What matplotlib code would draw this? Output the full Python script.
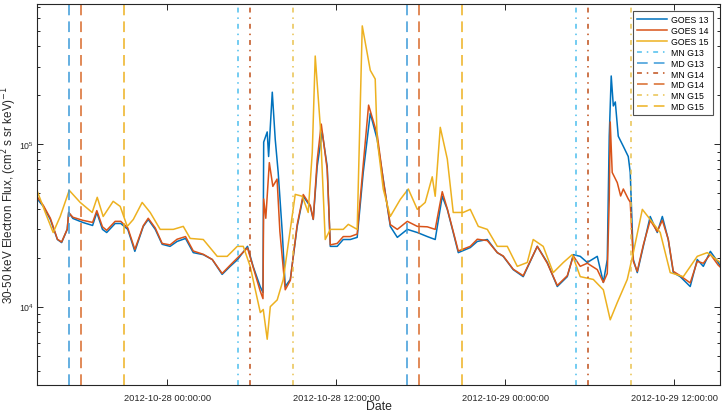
import matplotlib
matplotlib.use("Agg")
import matplotlib.pyplot as plt
import matplotlib.dates as mdates
from matplotlib.ticker import LogLocator, NullFormatter
import pandas as pd

plt.rcParams['font.family'] = ['Liberation Sans', 'DejaVu Sans']

base_time = "2012-10-28 00:00"

# ---- data: hours relative to base_time, flux in (cm^2 s sr keV)^-1 ----
g13_hours = [-9.2, -8.8, -8.3, -7.8, -7.5, -7.1, -7.0, -6.7, -6.0, -5.3, -5.0, -4.6, -4.3, -3.7, -3.3,
             -2.8, -2.3, -1.7, -1.35, -0.85, -0.36, 0.2, 0.7, 1.3, 1.85, 2.56, 3.2, 3.9, 4.47, 5.0,
             5.7, 6.1, 6.6, 6.8, 6.85, 7.1, 7.2, 7.46, 7.67, 7.88, 8.17, 8.38, 8.74, 9.23, 9.66,
             10.16, 10.37, 10.65, 11.0, 11.36, 11.58, 12.07, 12.5, 13.0, 13.49, 13.92, 14.42, 14.91,
             15.34, 15.84, 16.34, 17.05, 17.76, 18.47, 19.03, 19.53, 19.89, 20.31, 20.67, 21.52,
             22.02, 22.73, 23.44, 23.86, 24.57, 25.28, 26.28, 26.99, 27.70, 28.41, 28.84, 29.33,
             29.83, 30.54, 30.97, 31.25, 31.39, 31.53, 31.68, 31.82, 32.03, 32.39, 32.74, 32.88,
             33.10, 33.38, 33.81, 34.30, 34.80, 35.16, 35.58, 35.94, 36.43, 37.14, 37.64, 38.07,
             38.57, 39.13, 39.28]
g13_flux = [4.57e4, 4.14e4, 3.44e4, 2.59e4, 2.48e4, 2.99e4, 3.80e4, 3.49e4, 3.30e4, 3.16e4, 3.80e4,
            2.99e4, 2.86e4, 3.25e4, 3.25e4, 2.99e4, 2.19e4, 3.12e4, 3.44e4, 2.99e4, 2.42e4, 2.35e4,
            2.52e4, 2.63e4, 2.15e4, 2.09e4, 1.95e4, 1.58e4, 1.77e4, 1.95e4, 2.35e4, 1.77e4, 1.33e4,
            1.22e4, 1.03e5, 1.19e5, 8.4e4, 2.09e5, 1.07e5, 6.7e4, 2.86e4, 1.33e4, 1.47e4, 3.12e4,
            4.78e4, 4.14e4, 3.44e4, 7.3e4, 1.19e5, 7.3e4, 2.35e4, 2.35e4, 2.59e4, 2.59e4, 2.67e4,
            6.7e4, 1.55e5, 1.07e5, 6.1e4, 3.12e4, 2.67e4, 2.99e4, 2.86e4, 2.70e4, 2.59e4, 4.78e4,
            3.97e4, 2.86e4, 2.15e4, 2.31e4, 2.52e4, 2.59e4, 2.15e4, 2.04e4, 1.69e4, 1.53e4, 2.35e4,
            1.87e4, 1.33e4, 1.53e4, 2.09e4, 2.04e4, 1.87e4, 2.04e4, 1.41e4, 1.95e4, 1.12e5, 2.63e5,
            1.72e5, 1.82e5, 1.12e5, 9.7e4, 8.4e4, 6.7e4, 1.95e4, 1.62e4, 2.35e4, 3.59e4, 2.86e4,
            3.59e4, 2.59e4, 1.62e4, 1.53e4, 1.33e4, 1.95e4, 1.77e4, 2.19e4, 1.87e4, 1.77e4]

g14_hours = [-9.2, -8.8, -8.3, -7.8, -7.5, -7.1, -7.0, -6.7, -6.0, -5.3, -5.0, -4.6, -4.3, -3.7, -3.3,
             -2.8, -2.3, -1.7, -1.35, -0.85, -0.36, 0.2, 0.7, 1.3, 1.85, 2.56, 3.2, 3.9, 4.47, 5.0,
             5.7, 6.1, 6.6, 6.8, 6.85, 7.0, 7.25, 7.5, 7.8, 8.0, 8.38, 8.74, 9.23, 9.66, 10.16,
             10.37, 10.65, 10.94, 11.36, 11.58, 12.07, 12.5, 13.0, 13.49, 13.92, 14.3, 14.91, 15.34,
             15.84, 16.34, 17.05, 17.76, 18.47, 19.03, 19.53, 19.89, 20.31, 20.67, 21.52, 22.02,
             22.73, 23.44, 23.86, 24.57, 25.28, 26.28, 26.99, 27.70, 28.41, 28.84, 29.33, 29.83,
             30.54, 30.97, 31.25, 31.39, 31.46, 31.6, 31.96, 32.2, 32.39, 32.74, 32.88, 33.10,
             33.38, 33.81, 34.30, 34.80, 35.16, 35.58, 35.94, 36.43, 37.14, 37.64, 38.07, 38.57,
             39.13, 39.28]
g14_flux = [4.7e4, 4.2e4, 3.5e4, 2.6e4, 2.5e4, 3.0e4, 3.8e4, 3.55e4, 3.4e4, 3.3e4, 3.9e4, 3.1e4,
            2.95e4, 3.35e4, 3.35e4, 3.05e4, 2.25e4, 3.15e4, 3.5e4, 3.05e4, 2.45e4, 2.4e4, 2.6e4,
            2.7e4, 2.2e4, 2.1e4, 1.95e4, 1.6e4, 1.8e4, 2.0e4, 2.3e4, 1.75e4, 1.25e4, 1.12e4, 4.6e4,
            3.5e4, 7.7e4, 5.5e4, 6.1e4, 2.9e4, 1.27e4, 1.45e4, 3.2e4, 4.9e4, 4.2e4, 3.45e4, 8.0e4,
            1.33e5, 7.0e4, 2.4e4, 2.45e4, 2.7e4, 2.7e4, 2.8e4, 7.5e4, 1.74e5, 1.15e5, 6.0e4, 3.2e4,
            2.99e4, 3.35e4, 3.12e4, 3.1e4, 2.99e4, 5.1e4, 4.0e4, 2.9e4, 2.2e4, 2.35e4, 2.6e4,
            2.55e4, 2.15e4, 2.05e4, 1.7e4, 1.55e4, 2.35e4, 1.85e4, 1.35e4, 1.55e4, 2.05e4, 1.77e4,
            1.85e4, 1.69e4, 1.41e4, 1.6e4, 4.6e4, 1.37e5, 6.7e4, 5.8e4, 4.8e4, 5.3e4, 4.6e4, 4.4e4,
            1.9e4, 1.65e4, 2.4e4, 3.4e4, 2.9e4, 3.4e4, 2.6e4, 1.65e4, 1.55e4, 1.4e4, 1.9e4, 1.85e4,
            2.1e4, 1.8e4, 1.75e4]

g15_hours = [-9.2, -8.66, -8.1, -7.6, -6.96, -6.18, -5.33, -4.97, -4.55, -3.84, -3.34, -2.84, -2.41,
             -1.78, -1.21, -0.50, 0.43, 1.14, 1.63, 2.56, 3.55, 4.26, 4.97, 5.40, 5.89, 6.61, 6.82,
             7.10, 7.32, 7.81, 8.24, 8.74, 9.09, 9.59, 10.01, 10.30, 10.51, 10.87, 11.22, 11.58,
             12.50, 12.86, 13.49, 13.85, 14.42, 14.77, 14.91, 15.34, 15.84, 16.55, 17.12, 17.76,
             18.32, 18.82, 19.03, 19.39, 19.89, 20.31, 21.02, 21.52, 22.09, 22.73, 23.44, 24.15,
             24.86, 25.57, 25.99, 26.70, 27.41, 28.13, 28.76, 29.33, 30.26, 30.97, 31.46, 31.96,
             32.67, 33.10, 33.74, 34.30, 35.01, 35.72, 36.65, 37.64, 38.35, 39.28]
g15_flux = [5.06e4, 3.80e4, 2.86e4, 3.59e4, 5.2e4, 4.38e4, 3.80e4, 4.71e4, 3.59e4, 4.45e4, 4.14e4,
            3.12e4, 3.44e4, 4.38e4, 3.80e4, 2.99e4, 2.99e4, 3.12e4, 2.63e4, 2.59e4, 2.04e4, 2.04e4,
            2.35e4, 2.35e4, 1.77e4, 9.2e3, 9.6e3, 6.3e3, 1.0e4, 1.10e4, 1.47e4, 2.99e4, 4.91e4,
            4.78e4, 3.80e4, 8.9e4, 3.49e5, 1.29e5, 2.59e4, 2.99e4, 2.99e4, 3.21e4, 2.99e4, 5.35e5,
            2.85e5, 2.52e5, 1.07e5, 5.3e4, 3.59e4, 4.57e4, 5.3e4, 3.97e4, 4.38e4, 6.3e4, 4.78e4,
            1.27e5, 8.1e4, 3.80e4, 3.80e4, 3.97e4, 3.12e4, 2.99e4, 2.35e4, 2.35e4, 1.77e4, 1.87e4,
            2.59e4, 2.35e4, 1.62e4, 1.87e4, 2.09e4, 1.53e4, 1.47e4, 1.27e4, 8.3e3, 1.06e4, 1.47e4,
            2.15e4, 3.97e4, 3.44e4, 2.86e4, 1.62e4, 1.53e4, 2.04e4, 2.15e4, 1.87e4]

# local midnight (MN) / midday (MD) marker times
mn_g13 = ["2012-10-28 05:00", "2012-10-29 05:00"]
md_g13 = ["2012-10-27 17:00", "2012-10-28 17:00"]
mn_g14 = ["2012-10-28 05:52", "2012-10-29 05:52"]
md_g14 = ["2012-10-27 17:52", "2012-10-28 17:52"]
mn_g15 = ["2012-10-28 08:56", "2012-10-29 08:56"]
md_g15 = ["2012-10-27 20:56", "2012-10-28 20:56"]

x_range = ["2012-10-27 14:45", "2012-10-29 15:15"]
y_range = [3.3e3, 7.3e5]
tick_times = ["2012-10-28 00:00", "2012-10-28 12:00", "2012-10-29 00:00", "2012-10-29 12:00"]

c13, c14, c15 = '#0072BD', '#D95319', '#EDB120'


def to_time(hours):
    return pd.Timestamp(base_time) + pd.to_timedelta(hours, unit='h')


fig = plt.figure(figsize=(7.25, 4.14), dpi=100)
ax = fig.add_axes([0.051, 0.068, 0.942, 0.920])

lw = 1.1
ax.plot(to_time(g13_hours), g13_flux, color=c13, lw=lw, label='GOES 13')
ax.plot(to_time(g14_hours), g14_flux, color=c14, lw=lw, label='GOES 14')
ax.plot(to_time(g15_hours), g15_flux, color=c15, lw=lw, label='GOES 15')

dd = (0, (3.2, 3.2, 1, 3.2))
dsh = (0, (7, 4))
vl = 1.1
specs = [(mn_g13, '#4DBEEE', dd, 'MN G13'), (md_g13, '#3A9AD9', dsh, 'MD G13'),
         (mn_g14, '#C0501A', dd, 'MN G14'), (md_g14, '#D96A2A', dsh, 'MD G14'),
         (mn_g15, '#E9C250', dd, 'MN G15'), (md_g15, '#EDB120', dsh, 'MD G15')]
for times, col, ls, lab in specs:
    for i, t in enumerate(times):
        ax.axvline(pd.Timestamp(t), color=col, ls=ls, lw=vl, label=lab if i == 0 else None)

ax.set_yscale('log')
ax.set_ylim(*y_range)
ax.set_xlim(pd.Timestamp(x_range[0]), pd.Timestamp(x_range[1]))
ax.set_xticks([pd.Timestamp(t) for t in tick_times])
ax.xaxis.set_major_formatter(mdates.DateFormatter('%Y-%m-%d %H:%M:%S'))
ax.yaxis.set_major_locator(LogLocator(base=10, numticks=10))
ax.yaxis.set_minor_locator(LogLocator(base=10, subs=range(2, 10), numticks=10))
ax.yaxis.set_minor_formatter(NullFormatter())

ax.tick_params(which='both', direction='in', top=True, right=True, colors='#262626',
               labelsize=6.7, width=0.7)
ax.tick_params(which='major', length=4.5)
ax.tick_params(which='minor', length=2.5)
ax.tick_params(axis='x', pad=6)
ax.tick_params(axis='y', pad=2, labelsize=6.3)
for s in ax.spines.values():
    s.set_color('#262626')
    s.set_linewidth(0.8)

ax.set_ylabel('30-50 keV Electron Flux, (cm$^2$ s sr keV)$^{-1}$', fontsize=8.4, color='#262626')
ax.yaxis.set_label_coords(-0.027, 0.5)
ax.set_xlabel('Date', fontsize=8.8, color='#262626')
ax.xaxis.set_label_coords(0.5, -0.040)

leg = ax.legend(loc='upper right', fontsize=6.3, frameon=True, fancybox=False, handlelength=3.4,
                borderpad=0.45, labelspacing=0.22, handletextpad=0.5, borderaxespad=0.8)
leg.get_frame().set_edgecolor('#262626')
leg.get_frame().set_linewidth(0.8)

fig.savefig('out.png', dpi=100)
